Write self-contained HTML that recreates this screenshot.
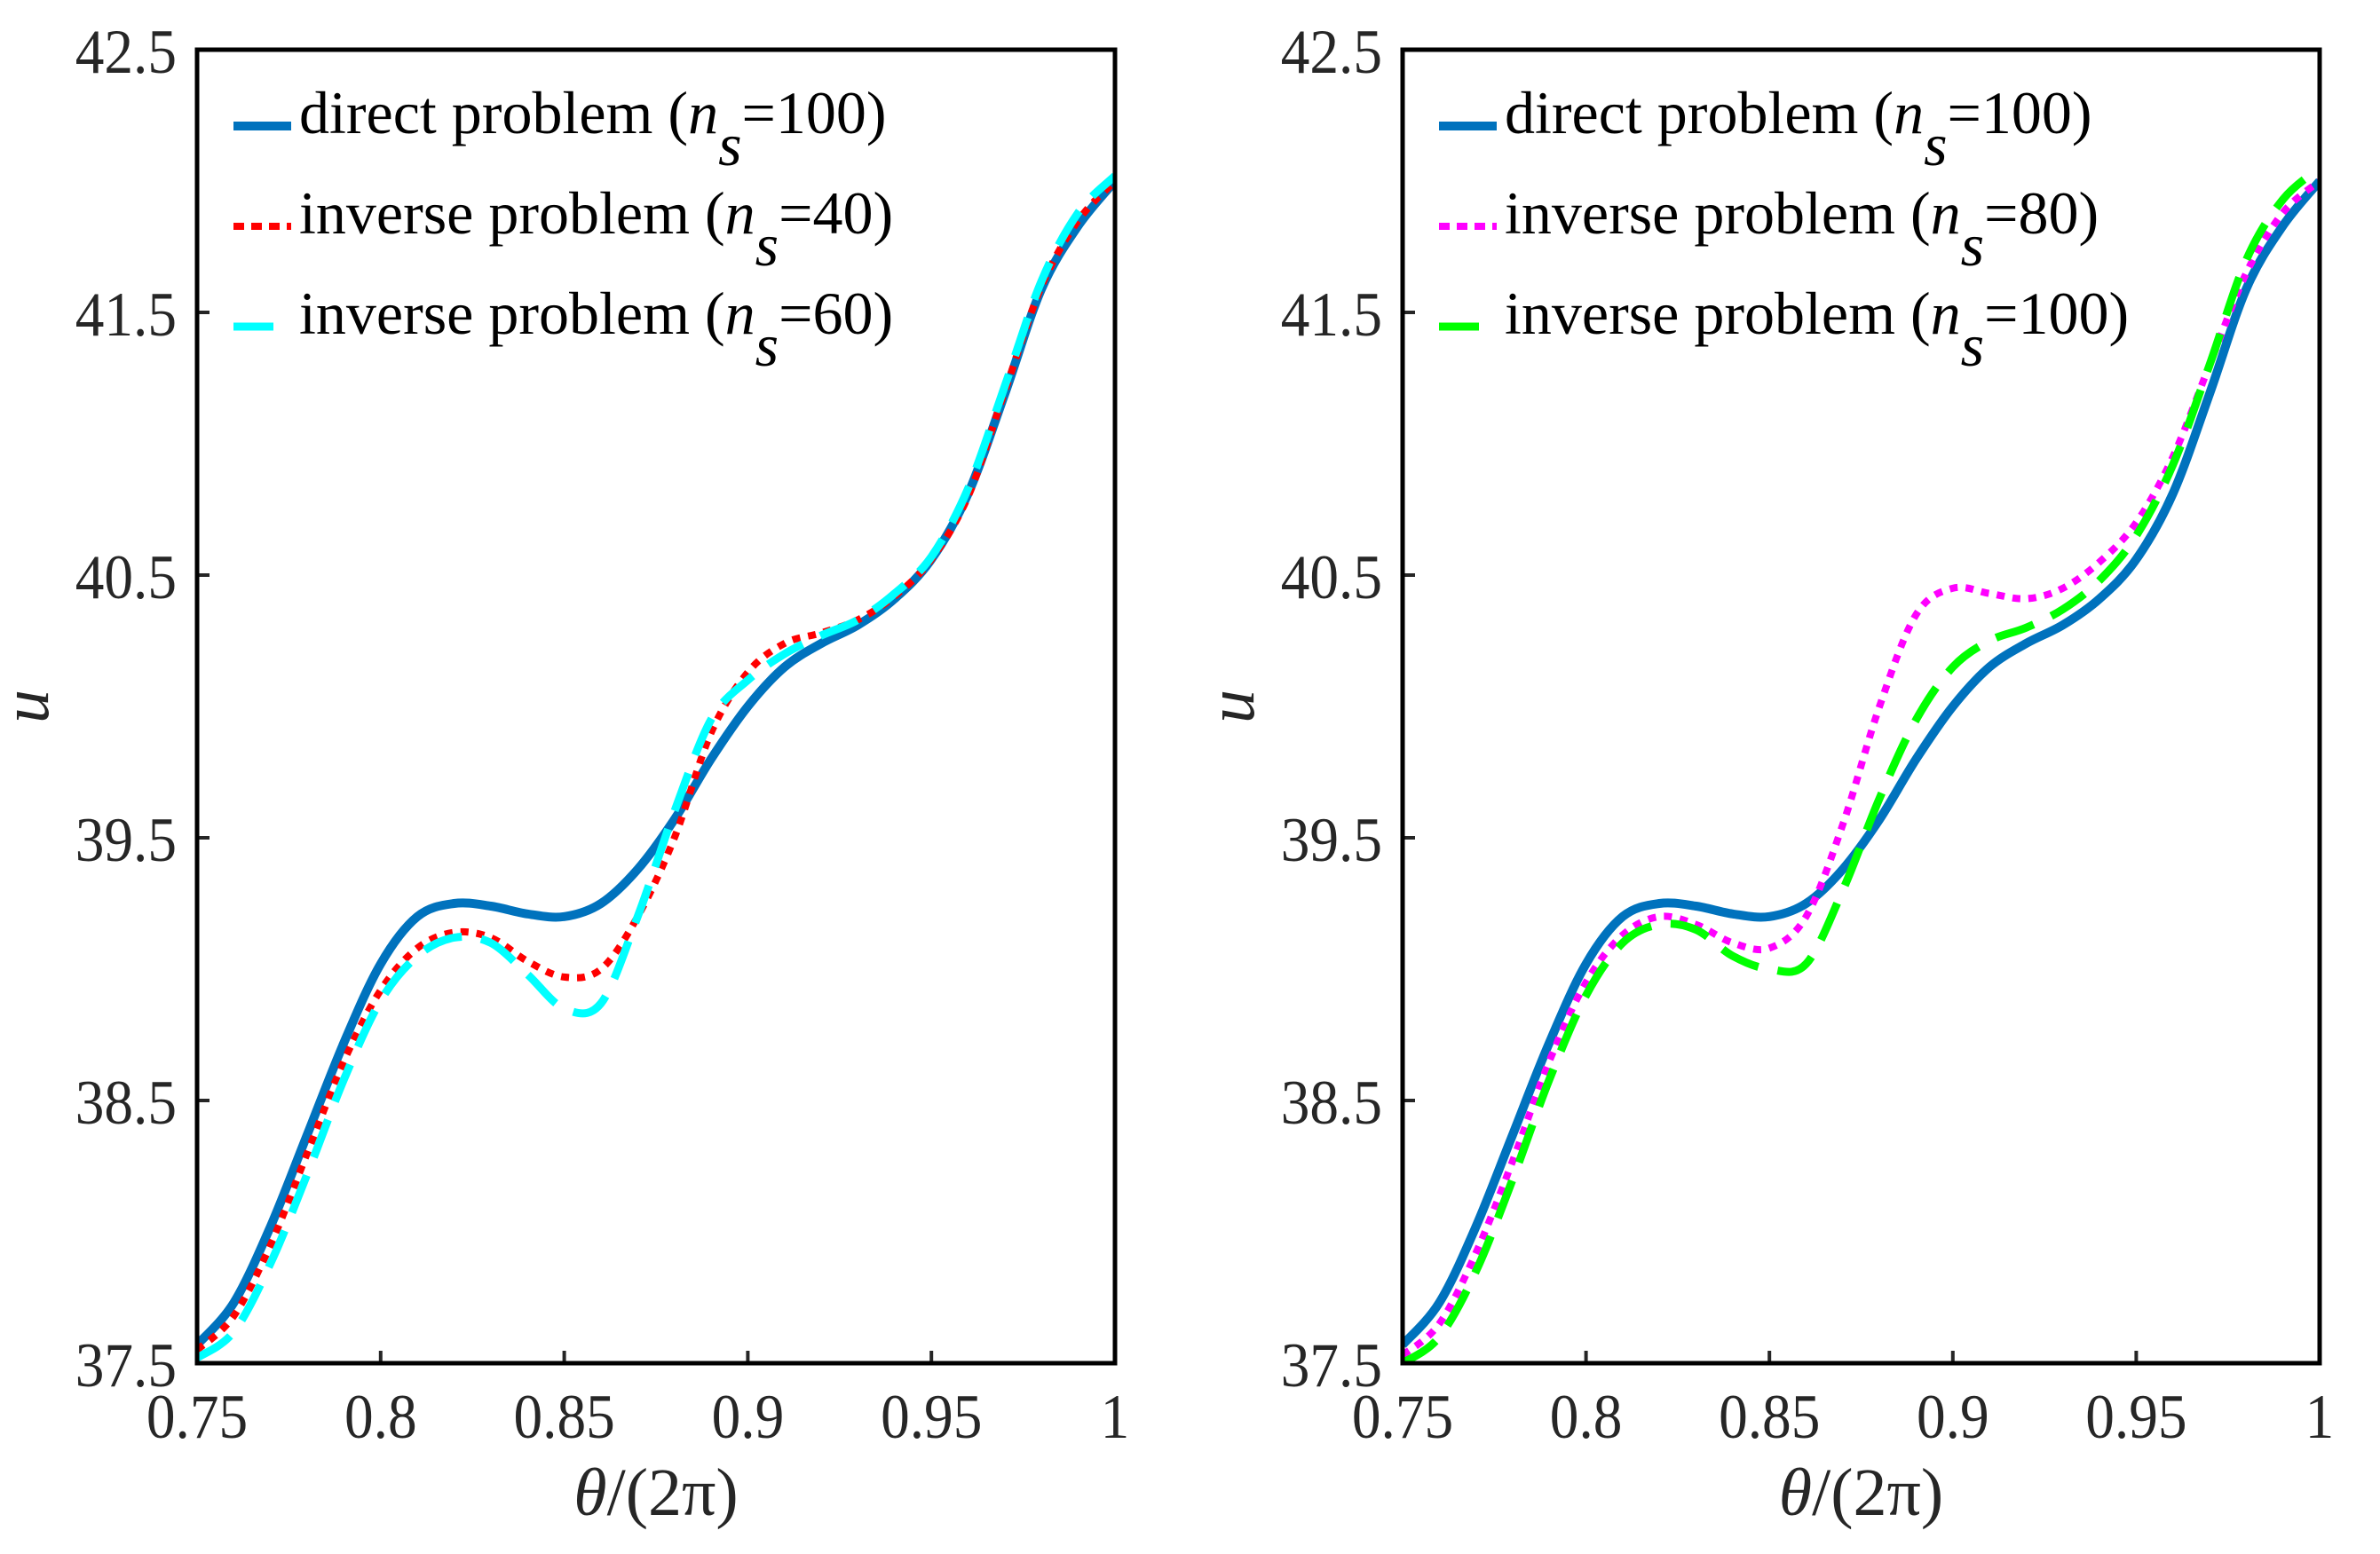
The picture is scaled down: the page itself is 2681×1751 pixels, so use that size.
<!DOCTYPE html>
<html><head><meta charset="utf-8">
<style>
html,body{margin:0;padding:0;background:#fff;}
svg{display:block;}
text{font-family:"Liberation Serif",serif;}
</style></head>
<body>
<svg id="fig" width="2681" height="1751" viewBox="0 0 2681 1751" xmlns="http://www.w3.org/2000/svg"></svg>
<script>
const xs = [0.75,0.76,0.77,0.78,0.79,0.80,0.81,0.82,0.83,0.84,0.85,0.86,0.87,0.88,0.89,0.90,0.91,0.92,0.93,0.94,0.95,0.96,0.97,0.98,0.99,1.0];
const direct100 = [37.57,37.73,38.02,38.37,38.72,39.02,39.2,39.25,39.24,39.21,39.2,39.25,39.38,39.57,39.8,40.0,40.15,40.24,40.31,40.41,40.56,40.81,41.19,41.59,41.83,42.0];
const inverse40 = [37.55,37.68,37.95,38.3,38.65,38.92,39.08,39.14,39.12,39.03,38.97,39.0,39.2,39.5,39.9,40.13,40.24,40.28,40.33,40.42,40.56,40.8,41.2,41.6,41.85,42.0];
const inverse60 = [37.52,37.62,37.88,38.22,38.58,38.88,39.05,39.12,39.1,38.98,38.85,38.87,39.2,39.6,39.95,40.1,40.2,40.27,40.33,40.43,40.57,40.83,41.22,41.62,41.88,42.02];
const inverse80 = [37.53,37.65,37.92,38.27,38.65,38.95,39.13,39.2,39.17,39.1,39.08,39.2,39.55,40.0,40.35,40.45,40.43,40.41,40.45,40.55,40.7,40.95,41.3,41.65,41.88,42.0];
const inverse100 = [37.5,37.6,37.85,38.2,38.58,38.9,39.1,39.17,39.15,39.05,39.0,39.02,39.3,39.65,39.95,40.15,40.25,40.3,40.37,40.48,40.65,40.92,41.3,41.7,41.93,42.05];
const xTicks = [0.75,0.8,0.85,0.9,0.95,1];
const xTickLabels = ["0.75","0.8","0.85","0.9","0.95","1"];
const yTicks = [37.5,38.5,39.5,40.5,41.5,42.5];
const yTickLabels = ["37.5","38.5","39.5","40.5","41.5","42.5"];

const NS = "http://www.w3.org/2000/svg";
const svg = document.getElementById('fig');
function mk(tag, attrs, parent){const e=document.createElementNS(NS,tag);for(const k in attrs)e.setAttribute(k,attrs[k]);(parent||svg).appendChild(e);return e;}

function smoothPath(pts){
  let d = "M"+pts[0][0].toFixed(1)+","+pts[0][1].toFixed(1);
  for(let i=0;i<pts.length-1;i++){
    const p0=pts[Math.max(i-1,0)],p1=pts[i],p2=pts[i+1],p3=pts[Math.min(i+2,pts.length-1)];
    const c1=[p1[0]+(p2[0]-p0[0])/6,p1[1]+(p2[1]-p0[1])/6];
    const c2=[p2[0]-(p3[0]-p1[0])/6,p2[1]-(p3[1]-p1[1])/6];
    d+=" C"+c1[0].toFixed(1)+","+c1[1].toFixed(1)+" "+c2[0].toFixed(1)+","+c2[1].toFixed(1)+" "+p2[0].toFixed(1)+","+p2[1].toFixed(1);
  }
  return d;
}

function panel(prefix, x0, x1, series){
  const y0=1536, y1=56;
  const X = v => x0 + (v-0.75)/(0.25)*(x1-x0);
  const Y = v => y0 - (v-37.5)/5*(y0-y1);
  const g = mk('g',{});
  
  
  const clipId = prefix+'-clip';
  const defs = mk('defs',{},g);
  const cp = mk('clipPath',{id:clipId},defs);
  mk('rect',{x:x0,y:y1,width:x1-x0,height:y0-y1},cp);
  series.forEach(s=>{
    const pts = xs.map((x,i)=>[X(x),Y(s.data[i])]);
    const p = mk('path',{d:smoothPath(pts),fill:'none',stroke:s.color,'stroke-width':s.w,'stroke-dasharray':s.dash||'none','clip-path':'url(#'+clipId+')'},g);
    
    
  });
  xTicks.forEach((t,i)=>{
    const l = mk('line',{x1:X(t),x2:X(t),y1:y0,y2:y0-14,stroke:'#262626','stroke-width':4},g);
    
    
    const tx = mk('text',{x:0,y:0,'font-size':71,'text-anchor':'middle',fill:'#262626',transform:'translate('+X(t)+',1620) scale(0.92,1)'},g);
    tx.textContent = xTickLabels[i];
    
    
  });
  yTicks.forEach((t,i)=>{
    const l = mk('line',{x1:x0,x2:x0+14,y1:Y(t),y2:Y(t),stroke:'#262626','stroke-width':4},g);
    
    
    const tx = mk('text',{x:0,y:0,'font-size':71,'text-anchor':'end',fill:'#262626',transform:'translate('+(x0-23)+','+(Y(t)+26)+') scale(0.92,1)'},g);
    tx.textContent = yTickLabels[i];
    
    
  });
  const box = mk('rect',{x:x0,y:y1,width:x1-x0,height:y0-y1,fill:'none',stroke:'#000','stroke-width':5},g);
  
  
  const xl = mk('text',{x:(x0+x1)/2,y:1707,'font-size':76,'text-anchor':'middle',fill:'#262626'},g);
  xl.innerHTML = '<tspan font-style="italic">θ</tspan>/(2π)';
  
  
  const yl = mk('text',{x:0,y:0,'font-size':76,'font-style':'italic','text-anchor':'middle',fill:'#262626',transform:'translate('+(x0-168)+',796) rotate(-90)'},g);
  yl.textContent = 'u';
  
  
  const rows=[150,263,376];
  series.forEach((s,i)=>{
    const lg = mk('g',{},g);
    
    
    mk('line',{x1:x0+41,x2:x0+106,y1:rows[i]-8,y2:rows[i]-8,stroke:s.color,'stroke-width':s.w,'stroke-dasharray':s.ldash||'none'},lg);
    const t = mk('text',{x:x0+115,y:rows[i],'font-size':68,fill:'#000','xml:space':'preserve'},lg);
    t.innerHTML = s.label + ' (<tspan font-style="italic">n</tspan><tspan font-style="italic" dy="36">s</tspan><tspan dy="-36">=' + s.ns + ')</tspan>';
  });
}

panel('left', 222, 1256, [
  {name:'direct-100', data:direct100, color:'#0072BD', w:10, label:'direct   problem', ns:'100'},
  {name:'inverse-40', data:inverse40, color:'#FF0000', w:8, dash:'9 9', ldash:'12 8', label:'inverse problem', ns:'40'},
  {name:'inverse-60', data:inverse60, color:'#00FFFF', w:9, dash:'45 22', ldash:'45 22', label:'inverse problem', ns:'60'}
]);
panel('right', 1580, 2613, [
  {name:'direct-100', data:direct100, color:'#0072BD', w:10, label:'direct   problem', ns:'100'},
  {name:'inverse-80', data:inverse80, color:'#FF00FF', w:8, dash:'9 9', ldash:'12 8', label:'inverse problem', ns:'80'},
  {name:'inverse-100', data:inverse100, color:'#00FF00', w:9, dash:'45 22', ldash:'45 22', label:'inverse problem', ns:'100'}
]);
</script>
</body></html>
